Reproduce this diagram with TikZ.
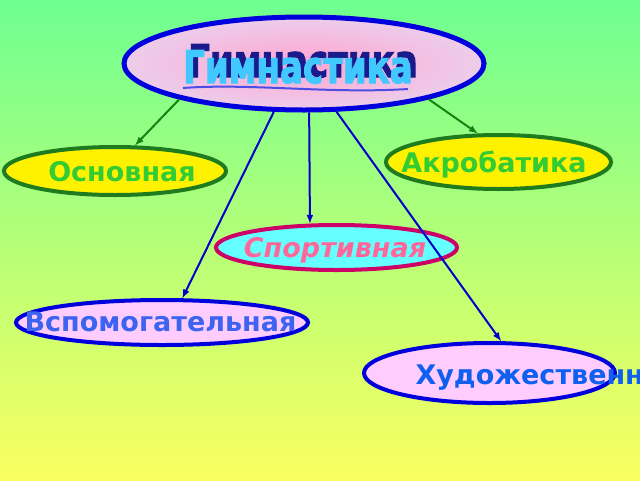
\documentclass[tikz,border=0pt]{standalone}
\usepackage{fontspec}
\setmainfont{DejaVu Sans}
\newfontfamily\gymfont{DejaVu Sans}[BoldFeatures={FakeBold=2.5}]
\usetikzlibrary{arrows,shapes.geometric}
\definecolor{bgtop}{RGB}{110,255,145}
\definecolor{bgbot}{RGB}{250,255,95}
\definecolor{gymblue}{RGB}{0,0,220}
\definecolor{gympink}{RGB}{255,165,210}
\definecolor{gymedge}{RGB}{236,205,234}
\definecolor{gymcyan}{RGB}{64,200,255}
\definecolor{gymnavy}{RGB}{26,26,140}
\definecolor{ovalgreen}{RGB}{30,123,30}
\definecolor{textgreen}{RGB}{51,204,51}
\definecolor{sportred}{RGB}{204,0,102}
\definecolor{sportcyan}{RGB}{102,255,255}
\definecolor{sportpink}{RGB}{255,102,153}
\definecolor{lightpink}{RGB}{255,204,255}
\definecolor{vspblue}{RGB}{60,100,240}
\definecolor{hudblue}{RGB}{16,96,240}
\definecolor{linegreen}{RGB}{20,130,20}
\definecolor{lineblue}{RGB}{0,0,204}

\begin{document}
\begin{tikzpicture}[x=1pt,y=-1pt,
   oval/.style={ellipse,line width=4pt,inner sep=0pt},
   word/.style={font=\bfseries\fontsize{27}{27}\selectfont,anchor=base},
   title/.style={font=\gymfont\bfseries\fontsize{25}{25}\selectfont,anchor=base},
   greenline/.style={-latex,line width=2pt,draw=linegreen},
   blueline/.style={-latex,line width=2pt,draw=lineblue}]
\useasboundingbox (0,0) rectangle (640,480);
\clip (0,0) rectangle (640,480);
\shade[top color=bgtop, bottom color=bgbot] (0,0) rectangle (640,480);

% ovals
\node[oval,draw=gymblue,line width=5pt,inner color=gympink,outer color=gymedge,
   minimum width=360,minimum height=93] (gym) at (304,63.5) {};
\node[oval,draw=ovalgreen,fill=yellow,minimum width=222,minimum height=48] (osn) at (115,171) {};
\node[oval,draw=ovalgreen,fill=yellow,minimum width=225,minimum height=54] (akr) at (498.5,162) {};
\node[oval,draw=sportred,fill=sportcyan,minimum width=241,minimum height=45] (spo) at (336.5,247.5) {};
\node[oval,draw=gymblue,fill=lightpink,minimum width=292,minimum height=45] (vsp) at (162,322.5) {};
\node[oval,draw=gymblue,fill=lightpink,minimum width=251,minimum height=60] (hud) at (489.5,373) {};

% title
\node[title,text=gymnavy] (gymshadow) at (303,77) {\scalebox{1.36}[1.8]{Гимнастика}};
\node[title,text=gymcyan] (gymtitle) at (298,83) {\scalebox{1.36}[1.8]{Гимнастика}};
\draw[draw=gymblue!70,line width=2pt] (183,88) .. controls (250,83) and (330,94) .. (408,89);

% labels
\node[word,text=textgreen] (osnT) at (122,181) {Основная};
\node[word,text=textgreen] (akrT) at (494,172) {Акробатика};
\node[word,text=sportpink,font=\bfseries\itshape\fontsize{27}{27}\selectfont] (spoT) at (335,257) {Спортивная};
\node[word,text=vspblue] (vspT) at (160.5,331) {Вспомогательная};
\node[word,text=hudblue,anchor=base west] (hudT) at (412,384) {Художественная};

\path
    (gym.196) edge[greenline] (osn.52)
    (gym.344.5) edge[greenline] (akr.126)
    (gym.238.4) edge[blueline] (vsp.50)
    (gym.276) edge[blueline] (spo.138)
    (gym.304.8) edge[blueline] (hud.70.5)
;

\end{tikzpicture}
\end{document}
